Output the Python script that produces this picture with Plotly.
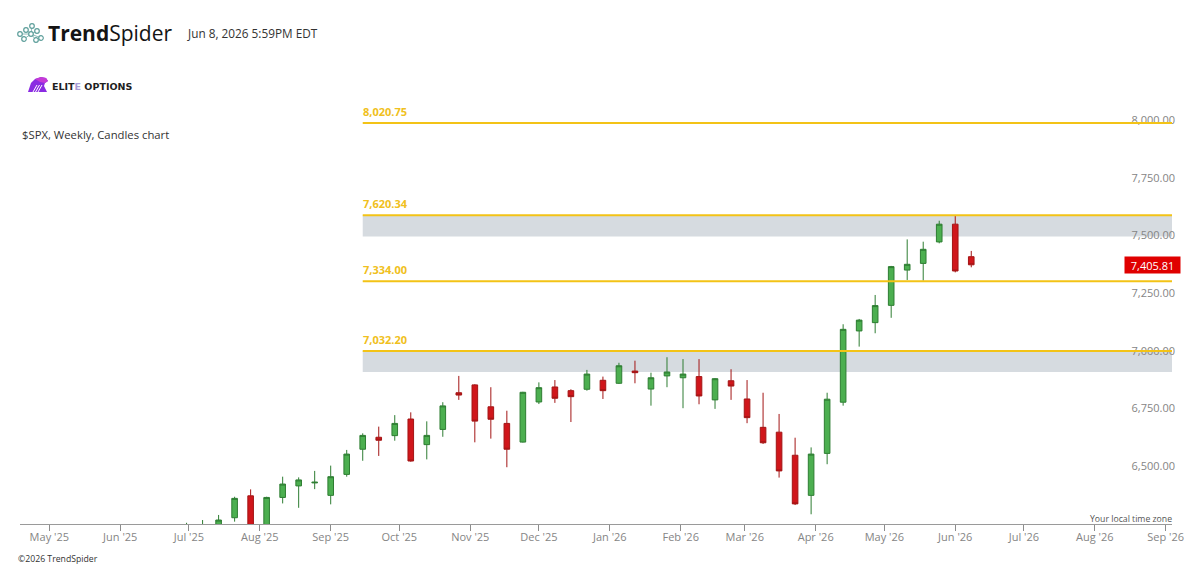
import plotly.graph_objects as go

# ---------------- data ----------------
weeks = [
    "2025-06-30", "2025-07-07", "2025-07-14", "2025-07-21", "2025-07-28",
    "2025-08-04", "2025-08-11", "2025-08-18", "2025-08-25", "2025-09-01",
    "2025-09-08", "2025-09-15", "2025-09-22", "2025-09-29", "2025-10-06",
    "2025-10-13", "2025-10-20", "2025-10-27", "2025-11-03", "2025-11-10",
    "2025-11-17", "2025-11-24", "2025-12-01", "2025-12-08", "2025-12-15",
    "2025-12-22", "2025-12-29", "2026-01-05", "2026-01-12", "2026-01-19",
    "2026-01-26", "2026-02-02", "2026-02-09", "2026-02-16", "2026-02-23",
    "2026-03-02", "2026-03-09", "2026-03-16", "2026-03-23", "2026-03-30",
    "2026-04-06", "2026-04-13", "2026-04-20", "2026-04-27", "2026-05-04",
    "2026-05-11", "2026-05-18", "2026-05-25", "2026-06-01", "2026-06-08",
]
opens = [6205, 6262, 6265, 6309, 6404, 6240, 6397, 6447, 6460, 6406,
         6497, 6606, 6658, 6665, 6737, 6626, 6692, 6851, 6885, 6790,
         6718, 6637, 6811, 6876, 6860, 6866, 6905, 6892, 6945, 6867,
         6924, 6916, 6921, 6820, 6903, 6824, 6701, 6680, 6580, 6406,
         6588, 6810, 7119, 7155, 7230, 7383, 7412, 7505, 7582, 7441]
highs = [6287, 6299, 6321, 6400, 6432, 6400, 6487, 6484, 6512, 6535,
         6603, 6675, 6704, 6754, 6766, 6727, 6810, 6924, 6888, 6875,
         6773, 6855, 6896, 6906, 6866, 6950, 6921, 6981, 6990, 6938,
         7005, 6997, 6997, 6915, 6953, 6906, 6851, 6759, 6656, 6614,
         6851, 7148, 7171, 7275, 7401, 7516, 7506, 7597, 7620, 7466]
lows = [6160, 6230, 6240, 6292, 6212, 6230, 6371, 6352, 6433, 6367,
        6487, 6556, 6577, 6643, 6552, 6562, 6660, 6820, 6636, 6652,
        6528, 6635, 6802, 6807, 6724, 6860, 6824, 6889, 6892, 6795,
        6875, 6784, 6801, 6781, 6820, 6719, 6629, 6483, 6364, 6324,
        6541, 6795, 7051, 7109, 7176, 7340, 7337, 7499, 7373, 7395]
closes = [6279, 6270, 6299, 6393, 6238, 6397, 6455, 6473, 6463, 6487,
          6585, 6666, 6645, 6718, 6555, 6666, 6794, 6841, 6728, 6736,
          6606, 6853, 6873, 6827, 6834, 6932, 6860, 6968, 6938, 6916,
          6941, 6932, 6837, 6912, 6880, 6743, 6634, 6512, 6369, 6585,
          6823, 7126, 7166, 7229, 7398, 7408, 7473, 7582, 7379, 7405.81]

levels = [8020.75, 7620.34, 7334.00, 7032.20]
level_labels = ["8,020.75", "7,620.34", "7,334.00", "7,032.20"]
zones = [(7529, 7620.34), (6941, 7032.20)]
level_start = "2025-09-15"

price_ticks = [6500, 6750, 7000, 7250, 7500, 7750, 8000]
last_price = 7405.81

x_range = ["2025-04-18 04:30", "2026-09-03 18:00"]
y_range = [6281.8, 8120.5]

# ---------------- layout helpers ----------------
W, H = 1200, 568
PX0, PX1, PY0, PY1 = 20, 1172, 100, 524


def px(x):
    return x / W


def py(y):
    return 1 - y / H


fig = go.Figure()
fig.add_trace(go.Candlestick(
    x=weeks, open=opens, high=highs, low=lows, close=closes,
    increasing=dict(fillcolor="#4caf50", line=dict(color="#2e7d32", width=1)),
    decreasing=dict(fillcolor="#d0161b", line=dict(color="#a31515", width=1)),
    whiskerwidth=0, showlegend=False, hoverinfo="skip",
))

shapes = []
for lo, hi in zones:
    shapes.append(dict(type="rect", xref="x", yref="y", x0=level_start, x1=x_range[1],
                       y0=lo, y1=hi, fillcolor="#d6dbe0", line=dict(width=0), layer="below"))
for lv in levels:
    shapes.append(dict(type="line", xref="x", yref="y", x0=level_start, x1=x_range[1],
                       y0=lv, y1=lv, line=dict(color="#f3c316", width=2), layer="above"))

# TrendSpider icon (small connected circles)
icon_pts = [(20, 34), (26, 30), (32, 26), (24, 39), (37, 31), (36, 40), (41, 38)]
cx, cy = 31, 34
for (ix, iy) in icon_pts:
    shapes.append(dict(type="line", xref="paper", yref="paper", x0=px(cx), y0=py(cy),
                       x1=px(ix), y1=py(iy), line=dict(color="#8fbcb9", width=1)))
for (ix, iy) in icon_pts + [(cx, cy)]:
    shapes.append(dict(type="circle", xref="paper", yref="paper",
                       x0=px(ix - 2.3), x1=px(ix + 2.3), y0=py(iy + 2.3), y1=py(iy - 2.3),
                       fillcolor="white", line=dict(color="#5e9f9b", width=1.2)))


def ppath(pts):
    return "M " + " L ".join(f"{px(a):.5f},{py(b):.5f}" for a, b in pts) + " Z"


# Elite Options eagle icon
eagle = [(28, 92), (31, 83), (35, 79), (41, 77), (46, 78), (48, 81), (45, 83), (44, 86), (47, 92)]
shapes.append(dict(type="path", xref="paper", yref="paper", path=ppath(eagle),
                   fillcolor="#8a2be2", line=dict(width=0)))
shapes.append(dict(type="path", xref="paper", yref="paper",
                   path=ppath([(35, 79), (41, 77), (46, 78), (48, 81), (45, 83), (40, 82)]),
                   fillcolor="#c53ad6", line=dict(width=0)))
for k in range(3):
    shapes.append(dict(type="line", xref="paper", yref="paper",
                       x0=px(33 + 2.5 * k), y0=py(92), x1=px(37 + 2.5 * k), y1=py(85),
                       line=dict(color="white", width=1)))

annotations = []
for lv, lab in zip(levels, level_labels):
    annotations.append(dict(xref="x", yref="y", x=level_start, y=lv, text=f"<b>{lab}</b>",
                            showarrow=False, xanchor="left", yanchor="bottom", yshift=2, xshift=-2,
                            font=dict(family="Open Sans", size=11, color="#f0c020")))

annotations.append(dict(xref="paper", yref="y", x=px(1181), y=last_price,
                        text=f"{last_price:,.2f}", showarrow=False, xanchor="right", yanchor="middle",
                        bgcolor="#e00000", borderpad=2, width=51, height=12,
                        font=dict(family="Open Sans", size=11, color="white")))

annotations += [
    dict(xref="paper", yref="paper", x=px(46), y=py(33), text="<b>Trend</b>Spider",
         showarrow=False, xanchor="left", yanchor="middle",
         font=dict(family="Open Sans", size=21, color="#141414")),
    dict(xref="paper", yref="paper", x=px(185), y=py(33), text="Jun 8, 2026 5:59PM EDT",
         showarrow=False, xanchor="left", yanchor="middle",
         font=dict(family="Open Sans", size=11.8, color="#333333")),
    dict(xref="paper", yref="paper", x=px(50), y=py(86),
         text="<b>ELIT<span style='color:#a79bd6'>E</span> OPTIONS</b>",
         showarrow=False, xanchor="left", yanchor="middle",
         font=dict(family="DejaVu Sans", size=9.5, color="#1e1e1e")),
    dict(xref="paper", yref="paper", x=px(20), y=py(135), text="$SPX, Weekly, Candles chart",
         showarrow=False, xanchor="left", yanchor="middle",
         font=dict(family="Open Sans", size=11.3, color="#333333")),
    dict(xref="paper", yref="paper", x=px(1174), y=py(519), text="Your local time zone",
         showarrow=False, xanchor="right", yanchor="middle",
         font=dict(family="Open Sans", size=8.7, color="#555555")),
    dict(xref="paper", yref="paper", x=px(16), y=py(559), text="©2026 TrendSpider",
         showarrow=False, xanchor="left", yanchor="middle",
         font=dict(family="Open Sans", size=8.7, color="#333333")),
]

fig.update_layout(
    width=W, height=H, margin=dict(l=0, r=0, t=0, b=0, autoexpand=False), autosize=False,
    paper_bgcolor="white", plot_bgcolor="white",
    shapes=shapes, annotations=annotations,
    boxgap=0.5, boxgroupgap=0.3,
    xaxis=dict(domain=[px(PX0), px(PX1)], type="date", range=x_range, automargin=False,
               rangeslider=dict(visible=False), tick0="2025-05-01", dtick="M1",
               tickformat="%b '%y", ticks="outside", ticklen=6, tickcolor="#8c8c8c",
               showline=True, linecolor="#9a9a9a", linewidth=1, showgrid=False, zeroline=False,
               ticklabelstandoff=-3, ticklabeloverflow="allow",
               tickfont=dict(family="Open Sans", size=11, color="#858585")),
    yaxis=dict(domain=[1 - PY1 / H, 1 - PY0 / H], range=y_range, side="right", automargin=False,
               tickvals=price_ticks, tickformat=",.2f", ticks="", showgrid=False,
               zeroline=False, showline=False, ticklabelposition="inside top",
               ticklabelstandoff=-6, ticklabeloverflow="allow",
               tickfont=dict(family="Open Sans", size=11, color="#858585")),
)

fig.write_html("out.html")
